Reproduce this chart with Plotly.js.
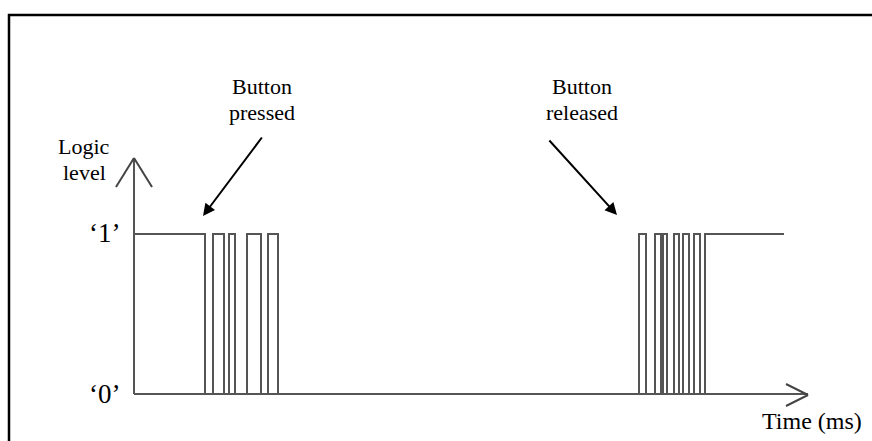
<!DOCTYPE html>
<html>
<head>
<meta charset="utf-8">
<script src="https://cdn.plot.ly/plotly-3.0.1.min.js"></script>
<style>
  html, body { margin: 0; padding: 0; background: #fff; }
  #chart { width: 872px; height: 441px; }
</style>
</head>
<body>
<div id="chart"></div>
<script>
// switch edges while the button bounces (time in ms, level 0/1)
const pressTimes = [0, 71, 79, 90, 95, 101, 113, 127, 134, 144];
const pressLevels = [1, 0, 1, 0, 1, 0, 1, 0, 1, 0];
const releaseTimes = [505, 512, 521, 527, 529, 533, 540, 545, 549, 555, 560, 566, 571, 650];
const releaseLevels = [1, 0, 1, 0, 1, 0, 1, 0, 1, 0, 1, 0, 1, 1];

const levelLabels = ['\u20180\u2019', '\u20181\u2019'];

const W = 872, H = 441;
// pixel -> paper helpers for the drawing decorations
const px = x => x / W;
const py = y => 1 - y / H;

const signal = {
    x: pressTimes.concat(releaseTimes),
    y: pressLevels.concat(releaseLevels),
    type: 'scatter',
    mode: 'lines',
    line: { shape: 'hv', color: '#555', width: 2 },
    hoverinfo: 'skip'
};

const font = { family: 'Liberation Serif, Times New Roman, serif', color: '#000', size: 22 };
const bigFont = Object.assign({}, font, { size: 27 });

const line = (x0, y0, x1, y1, color, width) => ({
    type: 'line', xref: 'paper', yref: 'paper',
    x0: px(x0), y0: py(y0), x1: px(x1), y1: py(y1),
    line: { color: color, width: width }
});

const shapes = [
    // frame
    { type: 'rect', xref: 'paper', yref: 'paper', x0: px(9), y0: py(15), x1: px(880), y1: py(450),
      line: { color: '#000', width: 2.5 } },
    // y axis + open arrow head
    line(134, 394, 134, 160, '#555', 2),
    line(116, 187, 134, 158, '#444', 2),
    line(152, 187, 134, 158, '#444', 2),
    // x axis + open arrow head
    line(134, 394, 808, 394, '#555', 2),
    line(786, 384, 808, 395, '#444', 2),
    line(786, 406, 808, 395, '#444', 2)
];

const annotations = [
    { text: 'Logic', x: px(84), y: py(146) },
    { text: 'level', x: px(84), y: py(172) },
    { text: 'Button', x: px(262), y: py(86) },
    { text: 'pressed', x: px(262), y: py(112) },
    { text: 'Button', x: px(582), y: py(86) },
    { text: 'released', x: px(582), y: py(112) },
    { text: 'Time (ms)', x: px(812), y: py(421), font: Object.assign({}, font, { size: 24 }) },
    { text: levelLabels[1], x: px(104), y: py(233), font: bigFont },
    { text: levelLabels[0], x: px(104), y: py(394), font: bigFont }
].map(a => Object.assign({ xref: 'paper', yref: 'paper', showarrow: false, font: font,
    xanchor: 'center', yanchor: 'middle' }, a));

// pointer arrows
annotations.push(
    { xref: 'paper', yref: 'paper', x: px(203), y: py(216), ax: 60, ay: -80, text: '',
      showarrow: true, arrowhead: 2, arrowsize: 1.2, arrowwidth: 2, arrowcolor: '#000' },
    { xref: 'paper', yref: 'paper', x: px(617), y: py(215), ax: -69, ay: -76, text: '',
      showarrow: true, arrowhead: 2, arrowsize: 1.2, arrowwidth: 2, arrowcolor: '#000' }
);

const layout = {
    width: W, height: H,
    margin: { l: 0, r: 0, t: 0, b: 0 },
    paper_bgcolor: '#fff', plot_bgcolor: '#fff',
    showlegend: false,
    xaxis: { range: [-134, W - 134], visible: false, fixedrange: true },
    yaxis: { range: [-(H - 394) / 160, 394 / 160], visible: false, fixedrange: true },
    shapes: shapes,
    annotations: annotations
};

Plotly.newPlot('chart', [signal], layout, { displayModeBar: false, staticPlot: true });
</script>
</body>
</html>
